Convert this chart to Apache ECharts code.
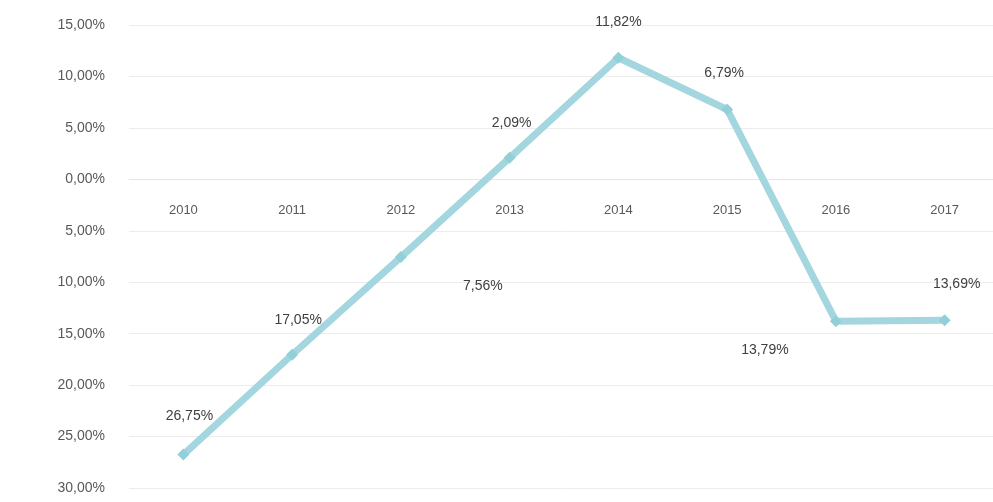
<!DOCTYPE html>
<html>
<head>
<meta charset="utf-8">
<script src="https://cdn.jsdelivr.net/npm/echarts@6/dist/echarts.min.js"></script>
<style>html,body{margin:0;padding:0;background:#fff}#c{width:993px;height:502px}</style>
</head>
<body>
<div id="c"></div>
<script>
var categories = ['2010','2011','2012','2013','2014','2015','2016','2017'];
var values = [-26.75, -17.05, -7.56, 2.09, 11.82, 6.79, -13.79, -13.69];
var yMin = -30, yMax = 15, yStep = 5;

function fmt(v){ return Math.abs(v).toFixed(2).replace('.', ',') + '%'; }

var gridTop = 25, gridHeight = 463;
var zeroOffset = -gridHeight * (0 - yMin) / (yMax - yMin);

var labelOffsets = [[6,-3],[6,0],[82,64],[2,0],[0,-1],[-3,-1],[-71,64],[12,-1]];
var seriesData = values.map(function(v, i){
  return { value: v, label: { offset: labelOffsets[i] } };
});

var chart = echarts.init(document.getElementById('c'), null, {renderer:'canvas'});
chart.setOption({
  animation: false,
  backgroundColor: '#ffffff',
  grid: { left: 129, width: 870, top: gridTop, height: gridHeight, containLabel: false, outerBoundsMode: 'none' },
  xAxis: {
    type: 'category',
    data: categories,
    boundaryGap: true,
    position: 'bottom',
    offset: zeroOffset,
    axisLine: { show: true, onZero: false, lineStyle: { color: '#e6e6e6', width: 1 } },
    axisTick: { show: false },
    axisLabel: { color: '#595959', fontSize: 13, margin: 25, fontFamily: 'Liberation Sans, Arial' },
    splitLine: { show: false }
  },
  yAxis: {
    type: 'value',
    min: yMin, max: yMax, interval: yStep,
    axisLine: { show: false },
    axisTick: { show: false },
    axisLabel: { color: '#595959', fontSize: 14, margin: 24, fontFamily: 'Liberation Sans, Arial', formatter: fmt },
    splitLine: { show: true, lineStyle: { color: '#ececec', width: 1 } }
  },
  series: [{
    type: 'line',
    data: seriesData,
    symbol: 'diamond',
    symbolSize: 12,
    lineStyle: { color: '#a3d6de', width: 7 },
    itemStyle: { color: '#92cfd8' },
    label: {
      show: true, position: 'top', distance: 22,
      color: '#404040', fontSize: 14, fontFamily: 'Liberation Sans, Arial',
      formatter: function(p){ return fmt(p.value); }
    }
  }]
});
</script>
</body>
</html>
